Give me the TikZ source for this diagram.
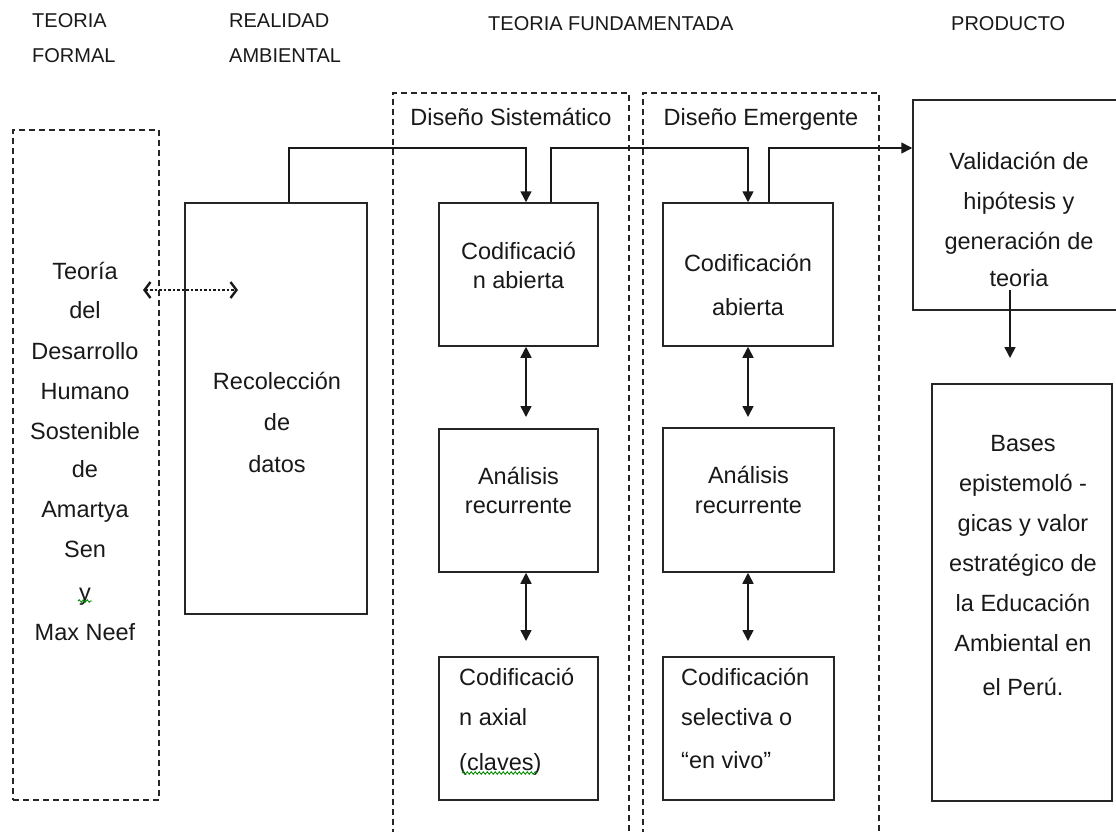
\documentclass[tikz,border=0pt]{standalone}
\usepackage{fontspec}
\setmainfont{Liberation Sans}
\usetikzlibrary{arrows.meta,decorations.pathmorphing}
\begin{document}
\begin{tikzpicture}[x=1pt,y=-1pt,
  box/.style={draw=black!85, line width=1.5pt, inner sep=0pt},
  dbox/.style={draw=black!85, line width=1.4pt, dash pattern=on 6pt off 4pt},
  txt/.style={font=\fontsize{23.5pt}{28pt}\selectfont, inner sep=0pt, text height=17pt, text depth=0pt, text=black!90},
  hdr/.style={font=\fontsize{20pt}{24pt}\selectfont, inner sep=0pt, text height=14.5pt, text depth=0pt, anchor=west, text=black!90},
  arr/.style={draw=black!90, line width=1.6pt, -{Triangle[length=11pt,width=11pt]}},
  darr/.style={draw=black!90, line width=1.6pt, {Triangle[length=11pt,width=11pt]}-{Triangle[length=11pt,width=11pt]}},
  dotarr/.style={draw=black!90, line width=2.2pt, dash pattern=on 2.5pt off 2pt, {Straight Barb[length=6pt,width=16pt,line width=2.4pt]}-{Straight Barb[length=6pt,width=16pt,line width=2.4pt]}},
  squig/.style={draw=green!55!black, line width=0.9pt, decorate, decoration={snake, amplitude=1.2pt, segment length=4pt}}
]
\useasboundingbox (0,0) rectangle (1116,831);

% headers
\node[hdr] (h1a) at (32,20) {TEORIA};
\node[hdr] (h1b) at (32,55) {FORMAL};
\node[hdr] (h2a) at (229,20) {REALIDAD};
\node[hdr] (h2b) at (229,55) {AMBIENTAL};
\node[hdr] (h3) at (488,23) {TEORIA FUNDAMENTADA};
\node[hdr] (h4) at (951,23) {PRODUCTO};

% dashed frames
\node[dbox, minimum width=146pt, minimum height=670pt] (teo) at (86,465) {};
\draw[dbox] (393,845) -- (393,93) -- (629,93) -- (629,845);
\draw[dbox] (643,845) -- (643,93) -- (879,93) -- (879,845);
\node[txt] (dsis) at (511,117) {Diseño Sistemático};
\node[txt] (demg) at (761,117) {Diseño Emergente};

% left text
\foreach \t/\yy [count=\i] in {Teoría/271,del/310,Desarrollo/351,Humano/391,Sostenible/431,de/469,Amartya/509,Sen/549,y/592,Max Neef/632}
  \node[txt] (teo\i) at (85,\yy) {\t};

% boxes
\node[box, minimum width=182pt, minimum height=411pt] (rec) at (276,408.5) {};
\node[box, minimum width=159pt, minimum height=143pt] (s1) at (518.5,274.5) {};
\node[box, minimum width=159pt, minimum height=143pt] (s2) at (518.5,500.5) {};
\node[box, minimum width=159pt, minimum height=143pt] (s3) at (518.5,728.5) {};
\node[box, minimum width=170pt, minimum height=143pt] (e1) at (748,274.5) {};
\node[box, minimum width=171pt, minimum height=144pt] (e2) at (748.5,500) {};
\node[box, minimum width=171pt, minimum height=143pt] (e3) at (748.5,728.5) {};
\node[box, minimum width=212pt, minimum height=210pt] (val) at (1019,205) {};
\node[box, minimum width=180pt, minimum height=417pt] (bas) at (1022,592.5) {};

% box texts
\foreach \t/\yy [count=\i] in {Recolección/381,de/422,datos/464}
  \node[txt] (rect\i) at (277,\yy) {\t};
\foreach \t/\yy [count=\i] in {Codificació/251,n abierta/280}
  \node[txt] (s1t\i) at (518.5,\yy) {\t};
\foreach \t/\yy [count=\i] in {Análisis/476,recurrente/505}
  \node[txt] (s2t\i) at (518.5,\yy) {\t};
\foreach \t/\yy [count=\i] in {Codificació/677,n axial/717,(claves)/762}
  \node[txt, anchor=west] (s3t\i) at (459,\yy) {\t};
\foreach \t/\yy [count=\i] in {Codificación/263,abierta/307}
  \node[txt] (e1t\i) at (748,\yy) {\t};
\foreach \t/\yy [count=\i] in {Análisis/475,recurrente/505}
  \node[txt] (e2t\i) at (748.5,\yy) {\t};
\foreach \t/\yy [count=\i] in {Codificación/677,selectiva o/717,“en vivo”/760}
  \node[txt, anchor=west] (e3t\i) at (681,\yy) {\t};
\foreach \t/\yy [count=\i] in {Validación de/161,hipótesis y/201,generación de/241,teoria/278}
  \node[txt] (valt\i) at (1019,\yy) {\t};
\foreach \t/\yy [count=\i] in {Bases/443,epistemoló -/483,gicas y valor/523,estratégico de/563,la Educación/603,Ambiental en/643,el Perú./687}
  \node[txt] (bast\i) at (1023,\yy) {\t};

% spell-check squiggles
\draw[squig] (78,601) -- (92,601);
\draw[squig] (462,773) -- (537,773);

% connector coordinates
\coordinate (k1) at (289,148);
\coordinate (k2) at (526,148);
\coordinate (k3) at (551,148);
\coordinate (k4) at (748,148);
\coordinate (k5) at (769,148);
\coordinate (a1) at (526,417);
\coordinate (a2) at (526,641);
\coordinate (b1) at (748,417);
\coordinate (b2) at (748,641);
\coordinate (v1) at (1010,290);
\coordinate (v2) at (1010,358);
\coordinate (d1) at (143,290);
\coordinate (d2) at (238,290);

\draw[arr] (rec.north -| k1) -- (k1) -- (k2) -- (s1.north -| k2);
\draw[arr] (s1.north -| k3) -- (k3) -- (k4) -- (e1.north -| k4);
\draw[arr] (e1.north -| k5) -- (k5) -- (val.west |- k5);
\draw[darr] (s1.south -| a1) -- (a1);
\draw[darr] (s2.south -| a2) -- (a2);
\draw[darr] (e1.south -| b1) -- (b1);
\draw[darr] (e2.south -| b2) -- (b2);
\draw[arr] (v1) -- (v2);
\draw[dotarr] (d1) -- (d2);
\end{tikzpicture}
\end{document}
